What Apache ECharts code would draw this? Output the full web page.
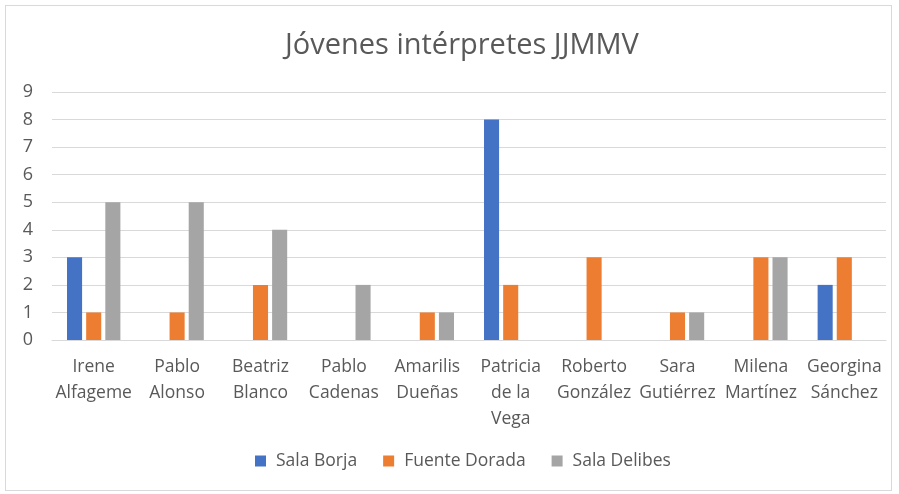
<!DOCTYPE html>
<html>
<head>
<meta charset="utf-8">
<script src="https://cdn.jsdelivr.net/npm/echarts@6/dist/echarts.min.js"></script>
<style>
  html, body { margin: 0; padding: 0; background: #fff; }
  #frame { position: absolute; left: 5px; top: 5px; width: 887px; height: 486px; border: 1px solid #d9d9d9; box-sizing: border-box; }
  #chart { position: absolute; left: 0; top: 0; width: 899px; height: 494px; }
</style>
</head>
<body>
<div id="frame"></div>
<div id="chart"></div>
<script>
// Performers and concert counts per venue
const categories = [
  'Irene\nAlfageme', 'Pablo\nAlonso', 'Beatriz\nBlanco', 'Pablo\nCadenas', 'Amarilis\nDueñas',
  'Patricia\nde la\nVega', 'Roberto\nGonzález', 'Sara\nGutiérrez', 'Milena\nMartínez', 'Georgina\nSánchez'
];
const salaBorja    = [3, null, null, null, null, 8, null, null, null, 2];
const fuenteDorada = [1, 1, 2, null, 1, 2, 3, 1, 3, 3];
const salaDelibes  = [5, 5, 4, 2, 1, null, null, 1, 3, null];
const yTicks = { min: 0, max: 9, interval: 1 };

const font = '"Open Sans", "Noto Sans", sans-serif';
const textColor = '#595959';

const chart = echarts.init(document.getElementById('chart'));
chart.setOption({
  animation: false,
  color: ['#4472C4', '#ED7D31', '#A5A5A5'],
  title: {
    text: 'Jóvenes intérpretes JJMMV',
    left: 280,
    top: 26,
    textStyle: { fontFamily: font, fontSize: 29, fontWeight: 'normal', color: textColor }
  },
  legend: {
    bottom: 19,
    left: 250,
    itemWidth: 11,
    itemHeight: 11,
    itemGap: 26,
    icon: 'rect',
    textStyle: { fontFamily: font, fontSize: 17.5, color: textColor, padding: [0, 0, 0, 5] }
  },
  grid: { left: 52, right: 13, top: 92, bottom: 154, containLabel: false },
  xAxis: {
    type: 'category',
    data: categories,
    axisLine: { lineStyle: { color: '#d9d9d9', width: 1 } },
    axisTick: { show: false },
    axisLabel: {
      interval: 0,
      margin: 14,
      fontFamily: font,
      fontSize: 17.5,
      lineHeight: 26,
      color: textColor
    }
  },
  yAxis: {
    type: 'value',
    min: yTicks.min,
    max: yTicks.max,
    interval: yTicks.interval,
    axisLine: { show: false },
    axisTick: { show: false },
    splitLine: { lineStyle: { color: '#d9d9d9', width: 1 } },
    axisLabel: { fontFamily: font, fontSize: 18, color: textColor, margin: 24, align: 'center' }
  },
  series: [
    { name: 'Sala Borja', type: 'bar', data: salaBorja, barGap: '27%', barCategoryGap: '36%' },
    { name: 'Fuente Dorada', type: 'bar', data: fuenteDorada, barGap: '27%', barCategoryGap: '36%' },
    { name: 'Sala Delibes', type: 'bar', data: salaDelibes, barGap: '27%', barCategoryGap: '36%' }
  ]
});
</script>
</body>
</html>
